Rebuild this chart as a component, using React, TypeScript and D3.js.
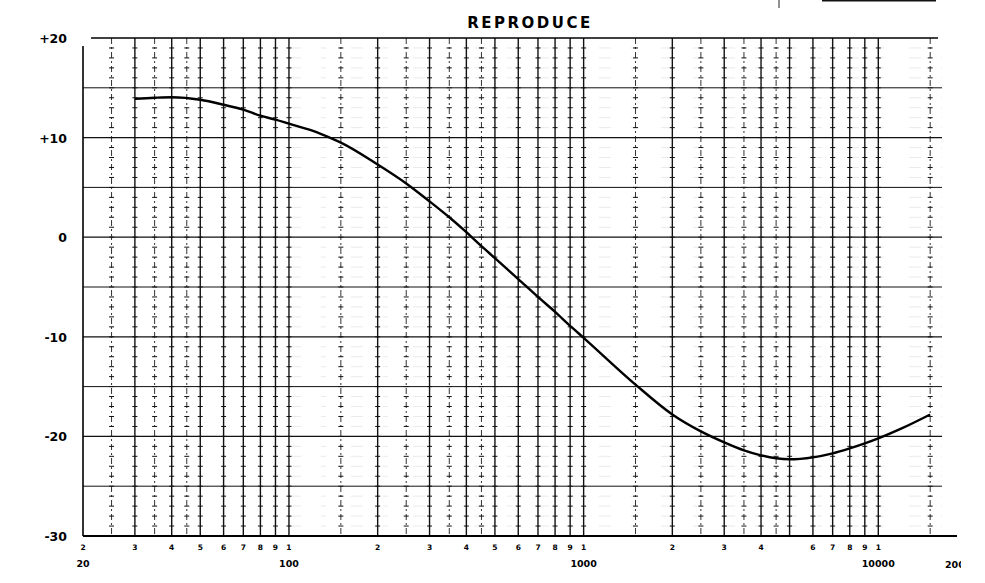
import React, { useEffect, useRef } from 'react';
import * as d3 from 'd3';

// curve (Hz, dB)
const freqs = [30, 35, 40, 50, 60, 70, 80, 90, 100, 120, 140, 150, 200, 250, 300, 350, 400, 450, 500, 600, 700, 800, 900, 1000, 1500, 2000, 2500, 3000, 3500, 4000, 4500, 5000, 6000, 7000, 8000, 9000, 10000, 12000, 15000];
const gainDb = [13.9, 14.0, 14.05, 13.8, 13.3, 12.8, 12.2, 11.8, 11.4, 10.7, 9.9, 9.5, 7.3, 5.4, 3.6, 2.0, 0.5, -0.9, -2.1, -4.2, -6.0, -7.5, -8.9, -10.1, -14.8, -17.8, -19.5, -20.6, -21.4, -21.9, -22.2, -22.3, -22.1, -21.7, -21.2, -20.7, -20.2, -19.2, -17.8];

// grid
const solidFreqs = [30, 40, 50, 60, 70, 80, 90, 100, 200, 300, 400, 500, 600, 700, 800, 900, 1000, 2000, 3000, 4000, 5000, 6000, 7000, 8000, 9000, 10000];
const dashedFreqs = [25, 35, 45, 150, 250, 350, 450, 1500, 2500, 3500, 4500, 15000];
const digitFreqs = [20, 30, 40, 50, 60, 70, 80, 90, 100, 200, 300, 400, 500, 600, 700, 800, 900, 1000, 2000, 3000, 4000, 6000, 7000, 8000, 9000, 10000];
const decadeFreqs = [20, 100, 1000, 10000];
const decadeLabels = ['20', '100', '1000', '10000'];
const yTicks = [20, 10, 0, -10, -20, -30];
const yLabels = ['+20', '+10', '0', '-10', '-20', '-30'];

const App: React.FC = () => {
  const svgRef = useRef<SVGSVGElement>(null);

  useEffect(() => {
    if (!svgRef.current) return;
    const svg = d3.select(svgRef.current);
    svg.selectAll('*').remove();

    const font = '"DejaVu Sans", sans-serif';
    const x = d3.scaleLog().domain([20, 20000]).range([83, 967]);
    const y = d3.scaleLinear().domain([-30, 20]).range([536, 38]);
    const xRight = 942;

    // faint 1 dB lines (mostly faded on the scan)
    svg.append('g')
      .selectAll('line')
      .data(d3.range(-29, 20).filter(d => d % 5 !== 0))
      .join('line')
      .attr('x1', x(100)).attr('x2', xRight)
      .attr('y1', d => y(d)).attr('y2', d => y(d))
      .attr('stroke', '#888')
      .attr('stroke-opacity', 0.22)
      .attr('stroke-width', 0.8)
      .attr('stroke-dasharray', '12 20 5 25');

    // 5 dB lines
    svg.append('g')
      .selectAll('line')
      .data(d3.range(-25, 20, 5))
      .join('line')
      .attr('x1', x(20)).attr('x2', xRight)
      .attr('y1', d => y(d)).attr('y2', d => y(d))
      .attr('stroke', '#111')
      .attr('stroke-width', d => (d % 10 === 0 ? 1.3 : 1));

    // verticals
    const vert = (data: number[], dashed: boolean) => {
      const g = svg.append('g');
      g.selectAll('line')
        .data(data)
        .join('line')
        .attr('x1', d => x(d)).attr('x2', d => x(d))
        .attr('y1', y(20)).attr('y2', y(-30))
        .attr('stroke', dashed ? '#333' : '#111')
        .attr('stroke-width', dashed ? 1 : 1.4)
        .attr('stroke-dasharray', dashed ? '6 3 2 3' : null);
      // little crosses every 1 dB
      const ticks = data.flatMap(f => d3.range(-29, 20).map(db => ({ f, db })));
      g.selectAll('path')
        .data(ticks)
        .join('path')
        .attr('d', d => `M${x(d.f) - 2.5},${y(d.db)}h5`)
        .attr('stroke', '#111')
        .attr('stroke-width', 1);
    };
    vert(dashedFreqs, true);
    vert(solidFreqs, false);

    // frame
    svg.append('line')
      .attr('x1', x(20)).attr('x2', x(20))
      .attr('y1', y(20) + 8).attr('y2', y(-30))
      .attr('stroke', '#000').attr('stroke-width', 1.6);
    svg.append('line')
      .attr('x1', x(20) + 8).attr('x2', xRight - 4)
      .attr('y1', y(20)).attr('y2', y(20))
      .attr('stroke', '#000').attr('stroke-width', 1.6);
    svg.append('line')
      .attr('x1', x(20)).attr('x2', 957)
      .attr('y1', y(-30)).attr('y2', y(-30))
      .attr('stroke', '#000').attr('stroke-width', 1.8);

    // curve
    const line = d3.line<number>()
      .x((_, i) => x(freqs[i]))
      .y(d => y(d))
      .curve(d3.curveMonotoneX);
    svg.append('path')
      .datum(gainDb)
      .attr('fill', 'none')
      .attr('stroke', '#000')
      .attr('stroke-width', 2.4)
      .attr('d', line);

    // y labels
    svg.append('g')
      .selectAll('text')
      .data(yTicks)
      .join('text')
      .attr('x', 67)
      .attr('y', d => y(d) + 5)
      .attr('text-anchor', 'end')
      .attr('font-family', font)
      .attr('font-weight', 'bold')
      .attr('font-size', 12.5)
      .text((_, i) => yLabels[i]);

    // small digits under the lines
    svg.append('g')
      .selectAll('text')
      .data(digitFreqs)
      .join('text')
      .attr('x', d => x(d))
      .attr('y', 550)
      .attr('text-anchor', 'middle')
      .attr('font-family', font)
      .attr('font-weight', 'bold')
      .attr('font-size', 7.5)
      .text(d => String(d)[0]);

    // decade labels
    svg.append('g')
      .selectAll('text')
      .data(decadeFreqs)
      .join('text')
      .attr('x', d => x(d))
      .attr('y', 567)
      .attr('text-anchor', 'middle')
      .attr('font-family', font)
      .attr('font-weight', 'bold')
      .attr('font-size', 9.5)
      .text((_, i) => decadeLabels[i]);

    // last label, cut off by the scan edge
    svg.append('clipPath').attr('id', 'edge')
      .append('rect').attr('x', 0).attr('y', 0).attr('width', 961).attr('height', 583);
    svg.append('text')
      .attr('clip-path', 'url(#edge)')
      .attr('x', 945)
      .attr('y', 568)
      .attr('font-family', font)
      .attr('font-weight', 'bold')
      .attr('font-size', 9.5)
      .text('20000');

    // title
    svg.append('text')
      .attr('x', 530)
      .attr('y', 28)
      .attr('text-anchor', 'middle')
      .attr('font-family', font)
      .attr('font-weight', 'bold')
      .attr('font-size', 15)
      .attr('letter-spacing', 2.5)
      .text('REPRODUCE');

    // scan marks at the top edge
    svg.append('line')
      .attr('x1', 779).attr('x2', 779).attr('y1', 0).attr('y2', 8)
      .attr('stroke', '#222').attr('stroke-width', 1);
    svg.append('line')
      .attr('x1', 822).attr('x2', 936).attr('y1', 0.5).attr('y2', 0.5)
      .attr('stroke', '#111').attr('stroke-width', 2);
  }, []);

  return (
    <svg
      ref={svgRef}
      width={985}
      height={583}
      viewBox="0 0 985 583"
      style={{ position: 'absolute', left: 0, top: 0, background: '#fff' }}
    />
  );
};

export default App;
